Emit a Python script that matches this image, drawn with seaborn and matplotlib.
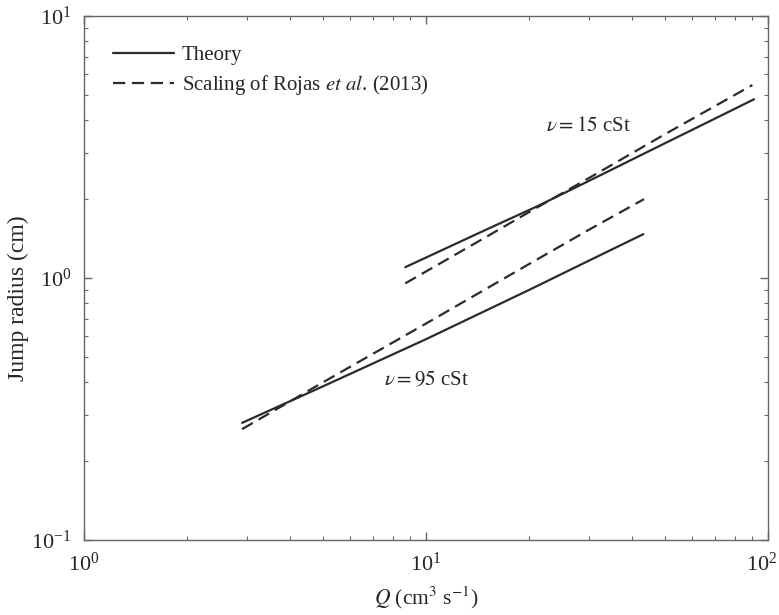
import numpy as np
import pandas as pd
import matplotlib
matplotlib.use('Agg')
import matplotlib.pyplot as plt
import matplotlib.transforms as mtransforms
import seaborn as sns

# values (Q in cm^3/s, jump radius in cm)
q_theory_15 = [8.7, 15, 21, 30, 50, 70, 91]
r_theory_15 = [1.10, 1.53, 1.87, 2.35, 3.27, 4.06, 4.81]
q_rojas_15 = [8.7, 15, 21, 30, 50, 90]
r_rojas_15 = [0.954, 1.435, 1.85, 2.41, 3.54, 5.45]

q_theory_95 = [2.9, 5, 10, 20, 30, 43.2]
r_theory_95 = [0.28, 0.386, 0.584, 0.90, 1.166, 1.47]
q_rojas_95 = [2.9, 5, 10, 20, 30, 43.4]
r_rojas_95 = [0.265, 0.40, 0.67, 1.13, 1.53, 2.0]

sns.set_style('ticks')
plt.rcParams['font.family'] = ['Liberation Serif', 'DejaVu Serif']
plt.rcParams['mathtext.fontset'] = 'stix'

fig = plt.figure(figsize=(7.79, 6.15), dpi=100)
ax = fig.add_axes([84 / 779, 1 - 540 / 615, 684 / 779, 524 / 615])
ax.set_xscale('log')
ax.set_yscale('log')

line_col = '#2b2b2b'
series = [
    (q_theory_15, r_theory_15, '-'),
    (q_rojas_15, r_rojas_15, '--'),
    (q_theory_95, r_theory_95, '-'),
    (q_rojas_95, r_rojas_95, '--'),
]
for q, r, ls in series:
    df = pd.DataFrame({'Q': q, 'R': r})
    sns.lineplot(data=df, x='Q', y='R', ax=ax, color=line_col, lw=1.6, linestyle=ls)

for ln in ax.get_lines():
    if ln.get_linestyle() == '--':
        ln.set_dashes((5.5, 3))

ax.set_xlim(1, 100)
ax.set_ylim(0.1, 10)

ax.text(29.8, 3.77, r'$\nu = 15$ cSt', fontsize=15, ha='center', va='center')
ax.text(10, 0.408, r'$\nu = 95$ cSt', fontsize=15, ha='center', va='center')

ax.set_xlabel(r'$Q$ (cm$^3$ s$^{-1}$)', fontsize=15.5)
ax.set_ylabel('Jump radius (cm)', fontsize=17)
ax.yaxis.set_label_coords(-0.080, 0.462)

spine_col = '#666666'
for s in ax.spines.values():
    s.set_color(spine_col)
    s.set_linewidth(1.0)
ax.tick_params(which='both', direction='in', top=True, right=True, color=spine_col)
ax.tick_params(which='major', length=6, width=1.0, labelsize=16, pad=9)
ax.tick_params(which='minor', length=3, width=0.8)

lines = ax.get_lines()
ax.legend([lines[0], lines[1]], ['Theory', r'Scaling of Rojas $et\ al$. (2013)'],
          loc='upper left', frameon=False, fontsize=15, handlelength=2.95,
          handletextpad=0.35, labelspacing=0.4, bbox_to_anchor=(0.015, 0.98))

ax.xaxis.labelpad = 6

fig.canvas.draw()
# nudge the rightmost x tick label inside the canvas
shift = mtransforms.ScaledTranslation(-6 / 100, 0, fig.dpi_scale_trans)
for lab in ax.get_xticklabels():
    if '2' in lab.get_text():
        lab.set_transform(lab.get_transform() + shift)

fig.savefig('out.png', dpi=100)
